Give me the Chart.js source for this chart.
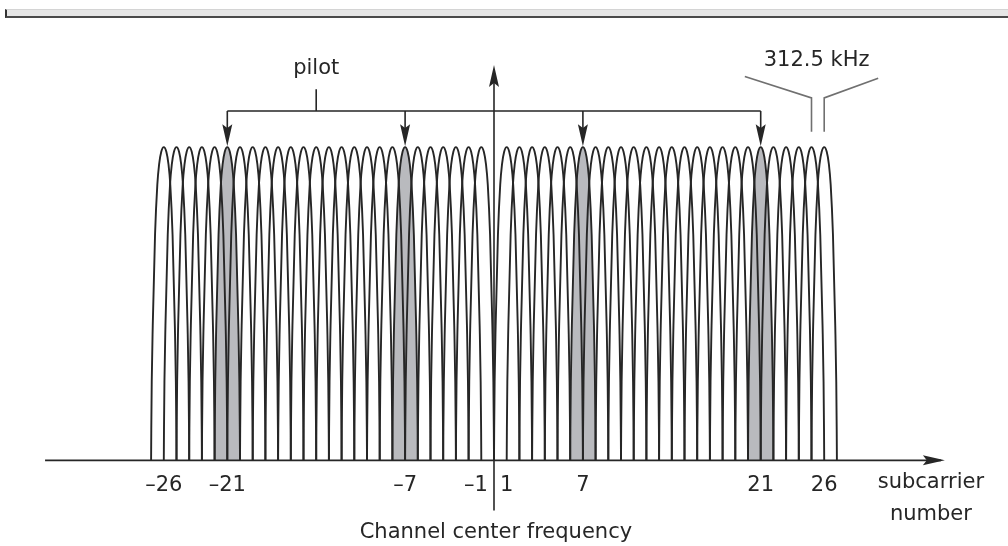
<!DOCTYPE html>
<html>
<head>
<meta charset="utf-8">
<script src="https://cdn.jsdelivr.net/npm/chart.js@4"></script>
<style>
html,body{margin:0;padding:0;background:#fff;overflow:hidden;}
#wrap{position:absolute;left:0;top:0;width:1008px;height:546px;}
#bar{position:absolute;left:5px;top:9px;width:1001px;height:6px;background:#e6e6e6;border-top:1px solid #d4d4d4;border-left:2px solid #333;border-bottom:2px solid #4a4a4a;}
</style>
</head>
<body>
<div id="wrap"><canvas id="c" width="1008" height="546"></canvas></div>
<div id="bar"></div>
<script>
// subcarrier numbers (no carrier at 0)
const subcarriers = [-26, -25, -24, -23, -22, -21, -20, -19, -18, -17, -16, -15, -14,
                     -13, -12, -11, -10, -9, -8, -7, -6, -5, -4, -3, -2, -1,
                     1, 2, 3, 4, 5, 6, 7, 8, 9, 10, 11, 12, 13,
                     14, 15, 16, 17, 18, 19, 20, 21, 22, 23, 24, 25, 26];
const pilots = [-21, -7, 7, 21];
const tickValues = [-26, -21, -7, -1, 1, 7, 21, 26];

// shape of one subcarrier lobe (offset in carriers, relative height)
const lobeOffset = [-1, -0.985, -0.95, -0.87, -0.69, -0.51, -0.37, -0.2, 0, 0.2, 0.37, 0.51, 0.69, 0.87, 0.95, 0.985, 1];
const lobeLevel  = [0, 0.1, 0.25, 0.43, 0.72, 0.88, 0.945, 0.985, 1, 0.985, 0.945, 0.88, 0.72, 0.43, 0.25, 0.1, 0];

const FONT = '"DejaVu Sans", sans-serif';
const INK = '#262626';

function arrowHead(ctx, tx, ty, dx, dy, len, half) {
    const px = -dy, py = dx;
    const bx = tx - dx * len, by = ty - dy * len;
    ctx.beginPath();
    ctx.moveTo(tx, ty);
    ctx.lineTo(bx + px * half, by + py * half);
    ctx.lineTo(tx - dx * len * 0.82, ty - dy * len * 0.82);
    ctx.lineTo(bx - px * half, by - py * half);
    ctx.closePath();
    ctx.fill();
}

const sketch = {
    id: 'sketch',
    afterDraw(chart) {
        const ctx = chart.ctx;
        const X = v => chart.scales.x.getPixelForValue(v);
        const Y = v => chart.scales.y.getPixelForValue(v);
        ctx.save();
        ctx.strokeStyle = INK;
        ctx.fillStyle = INK;
        ctx.lineWidth = 1.8;

        // horizontal axis with arrow
        ctx.beginPath();
        ctx.moveTo(X(-35.35), Y(0));
        ctx.lineTo(X(35.2), Y(0));
        ctx.stroke();
        arrowHead(ctx, X(35.5), Y(0), 1, 0, 22, 5);

        // channel center line with arrow
        ctx.lineWidth = 1.6;
        ctx.beginPath();
        ctx.moveTo(X(0), Y(-0.16));
        ctx.lineTo(X(0), Y(1.24));
        ctx.stroke();
        arrowHead(ctx, X(0), Y(1.262), 0, -1, 22, 5);

        // pilot bracket
        ctx.beginPath();
        ctx.moveTo(X(-14), Y(1.185));
        ctx.lineTo(X(-14), Y(1.115));
        ctx.moveTo(X(pilots[0]), Y(1.115));
        ctx.lineTo(X(pilots[pilots.length - 1]), Y(1.115));
        pilots.forEach(p => {
            ctx.moveTo(X(p), Y(1.115));
            ctx.lineTo(X(p), Y(1.05));
        });
        ctx.stroke();
        pilots.forEach(p => arrowHead(ctx, X(p), Y(1.003), 0, 1, 22, 5));

        // 312.5 kHz spacing marker
        ctx.strokeStyle = '#707070';
        ctx.lineWidth = 1.6;
        ctx.beginPath();
        ctx.moveTo(X(19.75), Y(1.225));
        ctx.lineTo(X(25), Y(1.157));
        ctx.lineTo(X(25), Y(1.049));
        ctx.moveTo(X(30.25), Y(1.22));
        ctx.lineTo(X(26), Y(1.157));
        ctx.lineTo(X(26), Y(1.049));
        ctx.stroke();

        // texts
        ctx.fillStyle = INK;
        ctx.font = '21px ' + FONT;
        ctx.textAlign = 'center';
        ctx.textBaseline = 'middle';
        ctx.fillText('pilot', X(-14), Y(1.252));
        ctx.fillText('312.5 kHz', X(25.4), Y(1.275));
        ctx.fillText('subcarrier', X(34.4), Y(-0.072));
        ctx.fillText('number', X(34.4), Y(-0.1725));
        ctx.fillText('Channel center frequency', X(0.15), Y(-0.232));
        ctx.restore();
    }
};

const datasets = subcarriers.map(k => ({
    data: lobeOffset.map((o, i) => ({x: k + o, y: lobeLevel[i]})),
    borderColor: INK,
    borderWidth: 1.9,
    pointRadius: 0,
    cubicInterpolationMode: 'monotone',
    fill: pilots.includes(k) ? 'origin' : false,
    backgroundColor: '#b9babe',
    clip: false
}));

new Chart('c', {
    type: 'line',
    data: {datasets: datasets},
    options: {
        responsive: false,
        animation: false,
        devicePixelRatio: 1,
        layout: {padding: {left: 49.5, right: 69.5, top: 21.8, bottom: 35.5}},
        plugins: {
            legend: {display: false},
            tooltip: {enabled: false},
            filler: {drawTime: 'beforeDatasetsDraw'}
        },
        scales: {
            x: {
                type: 'linear',
                min: -35,
                max: 35,
                grid: {display: false, drawTicks: false},
                border: {display: false},
                afterBuildTicks: s => { s.ticks = tickValues.map(v => ({value: v})); },
                ticks: {
                    autoSkip: false,
                    maxRotation: 0,
                    padding: 12.5,
                    color: INK,
                    font: {family: FONT, size: 21},
                    callback: v => v < 0 ? '\u2013' + Math.abs(v) + (v === -1 ? '\u2002' : '') : String(v)
                }
            },
            y: {
                display: false,
                min: 0,
                max: 1.4
            }
        }
    },
    plugins: [sketch]
});
</script>
</body>
</html>
